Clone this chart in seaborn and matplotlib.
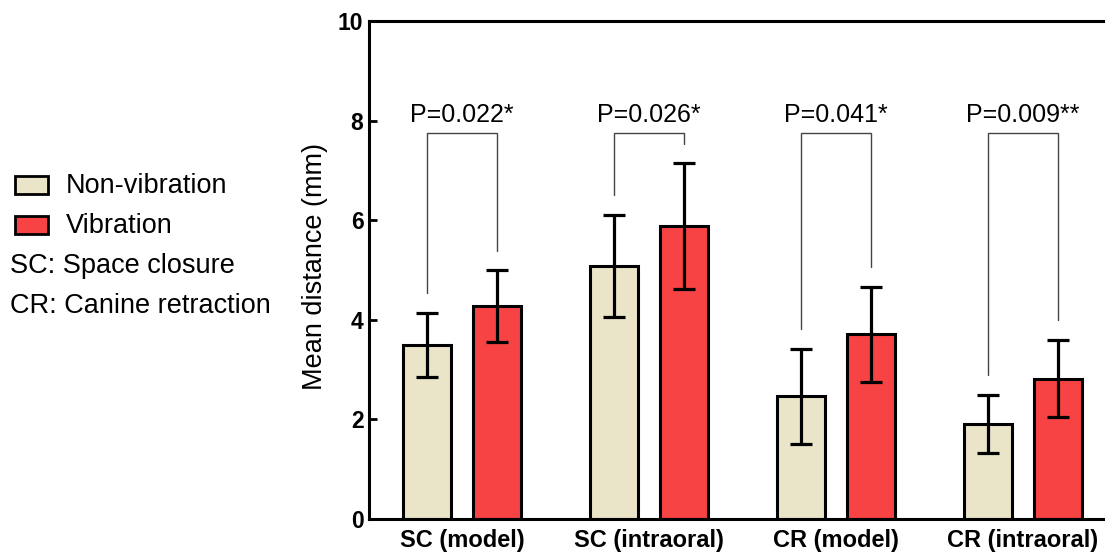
import matplotlib
matplotlib.use("Agg")
import matplotlib.pyplot as plt
from matplotlib.patches import Rectangle
import pandas as pd
import seaborn as sns

# Data: mean ± SD tooth movement (mm)
categories = ["SC (model)", "SC (intraoral)", "CR (model)", "CR (intraoral)"]
conditions = ["Non-vibration", "Vibration"]
non_vib_mean = [3.50, 5.08, 2.46, 1.91]
non_vib_sd = [0.64, 1.02, 0.96, 0.58]
vib_mean = [4.27, 5.88, 3.71, 2.82]
vib_sd = [0.72, 1.26, 0.95, 0.78]
p_labels = ["P=0.022*", "P=0.026*", "P=0.041*", "P=0.009**"]

colors = ["#EAE5C9", "#F74343"]

sns.set_theme(style="white")
plt.rcParams["font.family"] = ["Liberation Sans", "DejaVu Sans"]
plt.rcParams["text.color"] = "black"
plt.rcParams["axes.labelcolor"] = "black"

df = pd.DataFrame({
    "group": categories * 2,
    "condition": [conditions[0]] * 4 + [conditions[1]] * 4,
    "mean": non_vib_mean + vib_mean,
    "sd": non_vib_sd + vib_sd,
})

W, H = 1105, 554
fig = plt.figure(figsize=(W / 100, H / 100), dpi=100)
ax = fig.add_axes([369 / W, 1 - 519 / H, (1104 - 369) / W, (519 - 21) / H])

sns.barplot(data=df, x="group", y="mean", hue="condition",
            order=categories, hue_order=conditions, palette=colors,
            width=0.75, gap=0.315, edgecolor="black", linewidth=2.2,
            errorbar=None, legend=False, saturation=1, ax=ax)

# error bars at the centres of the drawn bars
centers = {}
for cont, sds, means, cond in zip(ax.containers, [non_vib_sd, vib_sd],
                                   [non_vib_mean, vib_mean], conditions):
    xs = [p.get_x() + p.get_width() / 2 for p in cont.patches]
    centers[cond] = xs
    ax.errorbar(xs, means, yerr=sds, fmt="none", ecolor="black",
                elinewidth=2.3, capsize=8, capthick=2.3, zorder=5)

# significance brackets
bracket_top = 7.75
gap_above = 0.4
for i, label in enumerate(p_labels):
    xl = centers[conditions[0]][i]
    xr = centers[conditions[1]][i]
    yl = non_vib_mean[i] + non_vib_sd[i] + gap_above
    yr = vib_mean[i] + vib_sd[i] + gap_above
    ax.plot([xl, xl, xr, xr], [yl, bracket_top, bracket_top, yr],
            color="#444444", lw=1.0, solid_joinstyle="miter")
    ax.text((xl + xr) / 2, 8.12, label, ha="center", va="center",
            fontsize=18, color="black")

ax.set_xlim(-0.497, 3.433)
ax.set_ylim(0, 10)
ax.set_yticks(range(0, 11, 2))
ax.set_yticklabels([str(v) for v in range(0, 11, 2)],
                   fontsize=16.5, fontweight="bold")
ax.set_xticks(range(len(categories)))
ax.set_xticklabels(categories, fontsize=17, fontweight="bold")
ax.tick_params(axis="y", direction="in", length=6, width=2, left=True,
               pad=4, colors="black")
ax.tick_params(axis="x", length=0, pad=7, colors="black")
ax.set_xlabel("")
ax.set_ylabel("Mean distance (mm)", fontsize=19.5, color="black")
ax.yaxis.set_label_coords(-0.056, 0.507)

for side in ["top", "left", "bottom"]:
    ax.spines[side].set_visible(True)
    ax.spines[side].set_color("black")
    ax.spines[side].set_linewidth(2.2)
ax.spines["right"].set_visible(False)

# legend block on the left
for cond, col, yc in zip(conditions, colors, [185, 225]):
    fig.add_artist(Rectangle((15 / W, 1 - (yc + 9) / H), 33 / W, 18 / H,
                             facecolor=col, edgecolor="black", lw=2.0,
                             transform=fig.transFigure))
    fig.text(66 / W, 1 - (yc + 1) / H, cond, fontsize=19.5, va="center",
             ha="left")
fig.text(10 / W, 1 - 266 / H, "SC: Space closure", fontsize=19.5,
         va="center", ha="left")
fig.text(10 / W, 1 - 306 / H, "CR: Canine retraction", fontsize=19.5,
         va="center", ha="left")

fig.savefig("out.png", dpi=100)
